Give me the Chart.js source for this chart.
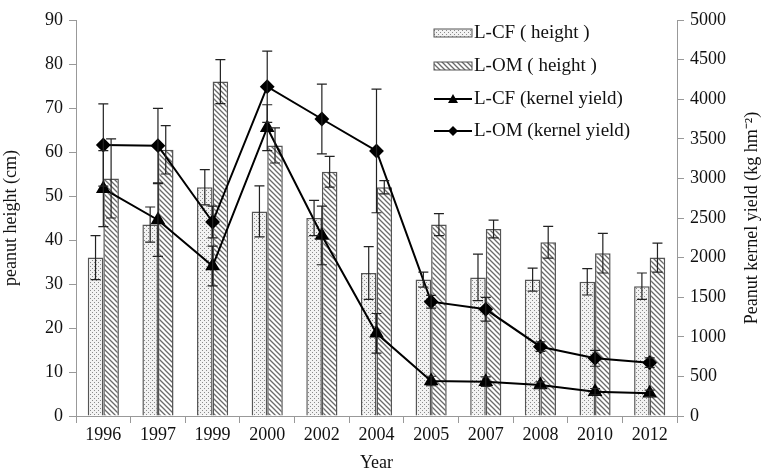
<!DOCTYPE html>
<html lang="en">
<head>
<meta charset="UTF-8">
<title>Peanut height and kernel yield</title>
<style>
    body { margin: 0; background: #fff; }
    #wrap { width: 771px; height: 474px; }
</style>
<script src="https://cdn.jsdelivr.net/npm/chart.js"></script>
</head>
<body>
<div id="wrap"><canvas id="myChart" width="771" height="474"></canvas></div>
<script>
    const years = ['1996', '1997', '1999', '2000', '2002', '2004', '2005', '2007', '2008', '2010', '2012'];
    const cfHeight = [36, 43.5, 52, 46.5, 45, 32.5, 31, 31.5, 31, 30.5, 29.5];
    const cfHeightErr = [5, 4, 4, 5.8, 4, 6, 1.7, 5.3, 2.6, 3, 3];
    const omHeight = [54, 60.5, 76, 61.5, 55.5, 52, 43.5, 42.5, 39.5, 37, 36];
    const omHeightErr = [9, 5.5, 5, 4, 3.5, 1.5, 2.5, 2, 3.6, 4.5, 3.3];
    const cfYield = [2870, 2475, 1894, 3640, 2280, 1044, 442, 433, 391, 307, 286];
    const cfYieldErr = [480, 460, 250, 290, 370, 250, 60, 60, 40, 40, 40];
    const omYield = [3422, 3413, 2449, 4158, 3750, 3346, 1443, 1347, 875, 728, 673];
    const omYieldErr = [520, 470, 200, 450, 440, 780, 80, 150, 60, 100, 60];

    const serif = '"Liberation Serif", "Times New Roman", serif';

    // fill patterns for the bars
    function dotPattern() {
        let c = document.createElement('canvas');
        c.width = 4; c.height = 4;
        let g = c.getContext('2d');
        g.fillStyle = '#f2f2f2';
        g.fillRect(0, 0, 4, 4);
        g.fillStyle = '#8a8a8a';
        g.fillRect(0, 0, 1, 1);
        g.fillRect(2, 2, 1, 1);
        return g.createPattern(c, 'repeat');
    }
    function hatchPattern() {
        let c = document.createElement('canvas');
        c.width = 5; c.height = 5;
        let g = c.getContext('2d');
        g.fillStyle = '#ffffff';
        g.fillRect(0, 0, 5, 5);
        g.strokeStyle = '#6a6a6a';
        g.lineWidth = 1.3;
        g.beginPath();
        g.moveTo(-1, -1); g.lineTo(6, 6);
        g.moveTo(-1, 4); g.lineTo(1, 6);
        g.moveTo(4, -1); g.lineTo(6, 1);
        g.stroke();
        return g.createPattern(c, 'repeat');
    }
    const dots = dotPattern();
    const hatch = hatchPattern();

    const errors = [cfHeightErr, omHeightErr, cfYieldErr, omYieldErr];

    const errorBars = {
        id: 'errorBars',
        afterDatasetsDraw(chart) {
            let ctx = chart.ctx;
            ctx.save();
            ctx.strokeStyle = '#222';
            ctx.lineWidth = 1.2;
            chart.data.datasets.forEach((ds, i) => {
                let meta = chart.getDatasetMeta(i);
                let scale = chart.scales[ds.yAxisID];
                ds.data.forEach((v, j) => {
                    let x = meta.data[j].x;
                    let e = errors[i][j];
                    let yt = scale.getPixelForValue(v + e);
                    let yb = scale.getPixelForValue(v - e);
                    ctx.beginPath();
                    ctx.moveTo(x, yt); ctx.lineTo(x, yb);
                    ctx.moveTo(x - 5, yt); ctx.lineTo(x + 5, yt);
                    ctx.moveTo(x - 5, yb); ctx.lineTo(x + 5, yb);
                    ctx.stroke();
                });
            });
            ctx.restore();
        }
    };

    const extras = {
        id: 'extras',
        afterDraw(chart) {
            let ctx = chart.ctx;
            ctx.save();
            // right axis title, reading bottom to top
            ctx.translate(752, (chart.chartArea.top + chart.chartArea.bottom) / 2);
            ctx.rotate(-Math.PI / 2);
            ctx.fillStyle = '#111';
            ctx.font = '18px ' + serif;
            ctx.textAlign = 'center';
            ctx.textBaseline = 'middle';
            ctx.fillText('Peanut kernel yield (kg hm\u207B\u00B2)', 0, 0);
            ctx.restore();

            // legend
            ctx.save();
            ctx.font = '19px ' + serif;
            ctx.textBaseline = 'middle';
            ctx.fillStyle = '#111';
            let x0 = 434, x1 = 472;
            let rows = [33, 66, 99, 131];
            chart.data.datasets.forEach((ds, i) => {
                let y = rows[i];
                if (ds.type === 'line') {
                    ctx.strokeStyle = '#000';
                    ctx.lineWidth = 2;
                    ctx.beginPath();
                    ctx.moveTo(x0, y); ctx.lineTo(x1, y);
                    ctx.stroke();
                    ctx.fillStyle = '#000';
                    ctx.beginPath();
                    if (ds.pointStyle === 'triangle') {
                        ctx.moveTo(453, y - 5); ctx.lineTo(458, y + 4); ctx.lineTo(448, y + 4);
                    } else {
                        ctx.moveTo(453, y - 5); ctx.lineTo(458, y); ctx.lineTo(453, y + 5); ctx.lineTo(448, y);
                    }
                    ctx.closePath();
                    ctx.fill();
                } else {
                    ctx.fillStyle = ds.backgroundColor;
                    ctx.fillRect(x0, y - 4, x1 - x0, 8);
                    ctx.strokeStyle = '#555';
                    ctx.lineWidth = 1;
                    ctx.strokeRect(x0, y - 4, x1 - x0, 8);
                }
                ctx.fillStyle = '#111';
                ctx.fillText(ds.label, x1 + 2, y);
            });
            ctx.restore();
        }
    };

    let ctx = document.getElementById('myChart').getContext('2d');
    let myChart = new Chart(ctx, {
        type: 'bar',
        data: {
            labels: years,
            datasets: [{
                label: 'L-CF ( height )',
                data: cfHeight,
                yAxisID: 'y',
                backgroundColor: dots,
                borderColor: '#555',
                borderWidth: 1.5,
                order: 2
            }, {
                label: 'L-OM ( height )',
                data: omHeight,
                yAxisID: 'y',
                backgroundColor: hatch,
                borderColor: '#555',
                borderWidth: 1.5,
                order: 2
            }, {
                type: 'line',
                label: 'L-CF (kernel yield)',
                data: cfYield,
                yAxisID: 'y1',
                borderColor: '#000',
                borderWidth: 2,
                pointStyle: 'triangle',
                pointRadius: 6.5,
                pointBackgroundColor: '#000',
                pointBorderColor: '#000',
                order: 1
            }, {
                type: 'line',
                label: 'L-OM (kernel yield)',
                data: omYield,
                yAxisID: 'y1',
                borderColor: '#000',
                borderWidth: 2,
                pointStyle: 'rectRot',
                pointRadius: 6,
                pointBackgroundColor: '#000',
                pointBorderColor: '#000',
                order: 0
            }]
        },
        options: {
            responsive: false,
            animation: false,
            layout: { padding: { top: 20, left: 0, right: 0, bottom: 0 } },
            datasets: {
                bar: { categoryPercentage: 0.57, barPercentage: 1 }
            },
            plugins: {
                legend: { display: false },
                tooltip: { enabled: false }
            },
            scales: {
                x: {
                    grid: { drawOnChartArea: false, offset: true, color: '#999', tickLength: 7 },
                    border: { color: '#999' },
                    ticks: { color: '#111', font: { family: serif, size: 18 }, padding: 1, maxRotation: 0 },
                    title: { display: true, text: 'Year', color: '#111', font: { family: serif, size: 18 }, padding: 0 },
                    afterFit(s) { s.height = 58; }
                },
                y: {
                    position: 'left',
                    min: 0, max: 90,
                    ticks: { stepSize: 10, color: '#111', font: { family: serif, size: 18 }, padding: 6 },
                    grid: { drawOnChartArea: false, color: '#999', tickLength: 7 },
                    border: { color: '#999' },
                    title: { display: true, text: 'peanut height (cm)', color: '#111', font: { family: serif, size: 18 }, padding: 0 },
                    afterFit(s) { s.width = 76; }
                },
                y1: {
                    position: 'right',
                    min: 0, max: 5000,
                    ticks: { stepSize: 500, color: '#111', font: { family: serif, size: 18 }, padding: 6, callback: v => String(v) },
                    grid: { drawOnChartArea: false, color: '#999', tickLength: 7 },
                    border: { color: '#999' },
                    afterFit(s) { s.width = 94; }
                }
            }
        },
        plugins: [errorBars, extras]
    });
</script>
</body>
</html>
